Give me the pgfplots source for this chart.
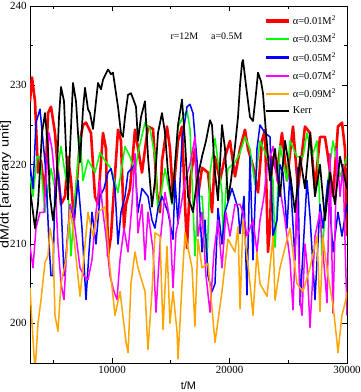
\documentclass[border=0pt]{standalone}
\usepackage{fontspec}
\setmainfont{Liberation Serif}
\newfontfamily\arialfont{Liberation Sans}
\usepackage{graphicx}
\usepackage{pgfplots}
\pgfplotsset{compat=1.18}

\definecolor{cRed}{HTML}{FF0000}
\definecolor{cGreen}{HTML}{00FF00}
\definecolor{cBlue}{HTML}{0000FF}
\definecolor{cMagenta}{HTML}{FF00FF}
\definecolor{cOrange}{HTML}{FFA500}

\begin{document}
\begin{tikzpicture}
\begin{axis}[
    scale only axis,
    width=317bp, height=357bp,
    xmin=3000, xmax=30000,
    ymin=195, ymax=240,
    xtick={10000,20000,30000},
    minor xtick={5000,15000,25000},
    ytick={200,210,220,230,240},
    minor ytick={195,205,215,225,235},
    scaled x ticks=false,
    tick align=inside,
    major tick length=5bp, minor tick length=3bp,
    /pgf/number format/assume math mode=true,
    /pgf/number format/1000 sep={},
    tick label style={font=\fontsize{11}{13}\selectfont},
    axis line style={line width=0.9pt},
    every tick/.style={line width=0.8pt, black},
    xlabel={\arialfont t/M},
    ylabel={\scalebox{1.2}[1]{\arialfont dM/dt [arbitrary unit]}},
    every axis x label/.style={at={(axis description cs:0.5,-0.062)}, anchor=center, font=\fontsize{11}{13}\selectfont},
    every axis y label/.style={at={(axis description cs:-0.077,0.5)}, rotate=90, anchor=center, font=\fontsize{12}{14}\selectfont},
    legend cell align=left,
    legend style={at={(rel axis cs:0.972,0.979)}, anchor=north east, draw=none, fill=none,
        font=\fontsize{10.5}{12}\selectfont, row sep=4bp, inner sep=0pt},
    legend image code/.code={\draw[#1, line width=2.2bp] (0bp,0bp) -- (23bp,0bp);},
    every axis plot/.append style={line join=round},
]
\addplot[cRed, line width=2.6bp, legend image code/.code={\draw[cRed, line width=3.6bp] (0bp,0bp) -- (23bp,0bp);}] coordinates {
(3000,228) (3170,231) (3426,228) (3681,219) (3937,220.5) (4278,216) (4533,226.5) (4789,227.3)
(5129,224) (5385,219) (5640,215) (5981,216) (6236,221) (6492,218) (6747,213) (7003,218)
(7259,223) (7514,225) (7770,225.3) (8195,224) (8536,216) (8792,215) (9217,224) (9473,222)
(9643,208.5) (9899,211) (10069,215) (10495,224.4) (10750,223) (11006,212) (11176,215) (11517,217)
(11943,224.4) (12539,219) (13050,224.8) (13476,224.5) (13817,216.5) (14072,214) (14242,220.5) (14668,224.8)
(14924,222) (15179,216) (15605,223) (15946,224.8) (16201,215) (16372,209.5) (16627,218) (17053,222)
(17308,216) (17649,219.6) (18160,219) (18501,214) (18756,221) (19182,218) (19608,221) (20034,223)
(20460,218.5) (20886,222) (21311,224.4) (21567,222) (21993,219.8) (22419,216.5) (22759,223) (23015,224.4)
(23270,209) (23441,212) (23611,221) (24037,219) (24463,224) (24889,218) (25400,224.8) (25826,217)
(26421,224.8) (26848,224) (27273,217) (27699,223.5) (28125,223.5) (28380,221) (28806,216) (29232,224.8)
(29573,225.3) (29829,222) (30000,211)
};
\addlegendentry{α=0.01M\textsuperscript{2}}
\addplot[cGreen, line width=1.5bp] coordinates {
(3000,218.5) (3256,216) (3596,221) (3852,221) (4278,214) (4533,217) (4789,219.5) (5129,217)
(5640,222.3) (5981,219) (6236,217) (6492,208.5) (6832,216) (7259,223.5) (7514,218) (7940,220.6)
(8536,219) (8962,221.5) (9388,220.5) (9899,219.5) (10495,216.5) (11091,222.3) (11517,221) (11943,219)
(12198,221.5) (12795,225.3) (13220,224.5) (13646,221) (13902,214) (14498,219.5) (15094,215) (15605,224.8)
(16031,226) (16372,226.8) (16627,224.5) (16883,215) (17053,208.5) (17308,216) (17649,216) (18075,207.6)
(18331,219) (18756,223.3) (19353,216.5) (19438,210.6) (19693,217) (19864,219.5) (20460,220.3) (20886,221.5)
(21311,223.5) (21737,222) (22163,217.5) (22589,223) (23185,221) (23696,218) (23867,209.6) (24293,222.4)
(24889,218) (25144,223) (25740,221) (26251,221) (26592,224) (27018,221) (27444,223) (27869,208.6)
(28295,217) (28806,223) (29403,218.5) (30000,221)
};
\addlegendentry{α=0.03M\textsuperscript{2}}
\addplot[cBlue, line width=1.5bp] coordinates {
(3000,220) (3256,217) (3511,225.3) (3852,227) (4107,223) (4363,219) (4618,210) (4789,206)
(4959,206) (5129,217.5) (5385,219) (5640,215.5) (5896,206) (6151,210) (6407,215) (6747,213)
(7088,218) (7429,212) (7770,203) (8025,209) (8281,214) (8621,210) (8962,216) (9303,217)
(9643,219) (9899,219.5) (10240,217) (10495,210) (10750,214) (11091,216) (11347,219) (11943,220)
(12198,214) (12539,217) (13050,216) (13391,213) (13646,212) (13902,214.5) (14242,216) (14753,214)
(15179,210.6) (15350,218) (15605,212.5) (15946,223) (16372,227.3) (16627,227.6) (16883,226.5) (17308,219)
(17649,209) (17905,213) (18160,206) (18501,204) (18756,205) (19012,214.5) (19353,210) (19608,214)
(20204,217) (20715,214.5) (20886,211.3) (21226,216) (21482,203.6) (21737,221) (21993,208) (22333,222)
(22589,225) (23015,224) (23441,223.5) (23696,211) (24037,213) (24293,220) (24548,219) (24889,212)
(25144,219) (25570,208) (25826,219.6) (26000,202.3) (26251,209) (26592,218) (26848,213.5) (27273,203)
(27699,215) (27955,212) (28380,218) (28806,209) (29232,214) (29573,211) (30000,215)
};
\addlegendentry{α=0.05M\textsuperscript{2}}
\addplot[cMagenta, line width=1.5bp] coordinates {
(3000,209.7) (3256,207) (3511,212) (3852,214) (4192,214) (4448,220) (4618,224) (4874,222)
(5129,218) (5385,210) (5640,205) (5896,203) (6151,210) (6407,215) (6662,214) (7003,210)
(7259,207) (7599,206) (7940,205.5) (8281,208) (8621,214) (8962,218) (9217,214) (9473,211)
(9814,206) (10155,204) (10410,203) (10665,208) (11006,212) (11347,209) (11687,215) (11943,221.4)
(12198,211.4) (12539,215) (12795,208) (13050,214) (13476,209.3) (13732,201.4) (14072,210) (14498,216.5)
(14924,213) (15179,204.5) (15435,211.4) (15776,214) (16201,218) (16627,220) (17053,223.5) (17308,211)
(17649,214) (17990,206) (18331,201.4) (18671,209) (19012,213) (19353,207) (19693,214) (20034,211)
(20460,215) (20886,215) (21141,214) (21482,211) (21993,213) (22333,209) (22589,213) (22930,216)
(23185,219.7) (23696,222.3) (24037,218) (24293,217) (24718,213) (25144,208) (25400,201.7) (25740,216)
(26000,203) (26166,201) (26421,210) (26592,207.5) (26848,199.5) (27273,211) (27699,214) (28295,202.6)
(28551,221.4) (28806,201.3) (29147,222) (29403,216) (29658,220) (30000,201)
};
\addlegendentry{α=0.07M\textsuperscript{2}}
\addplot[cOrange, line width=1.5bp] coordinates {
(3000,204.5) (3170,200) (3430,194) (3680,200) (3940,203) (4280,207.7) (4530,208.5) (4700,212)
(4960,210) (5130,201) (5380,199) (5640,205) (6070,208) (6410,214.3) (6660,212) (7260,203.4)
(7510,207) (7940,214) (8360,211) (8790,214) (9390,214.7) (9810,207) (10240,201) (10670,204)
(11180,197.6) (11350,196.3) (11600,205) (11940,209) (12200,207) (12800,204) (12970,198.9) (13050,196.7)
(13390,204) (13650,211.4) (14070,211) (14330,199.2) (14670,209.7) (14920,200) (15180,204) (15520,199)
(15610,195.5) (15950,205) (16200,211.4) (16800,207) (17050,199.6) (17310,210.6) (17650,207) (18160,207.5)
(18760,197.6) (19350,204) (19860,210.6) (20460,209) (20720,212.2) (20890,201.8) (21140,213) (21740,205)
(21990,201) (22330,209) (22590,205) (23190,203.4) (23700,211) (23870,202.9) (24290,207) (25140,212)
(25740,205) (26250,204) (26850,207) (27440,211) (27700,201.5) (27950,210.8) (28380,206) (28810,202.3)
(29150,197.6) (29230,196.3) (29570,201) (29910,203) (30000,204)
};
\addlegendentry{α=0.09M\textsuperscript{2}}
\addplot[black, line width=1.7bp] coordinates {
(3000,217) (3426,212) (3681,215) (4022,224) (4278,226.5) (4533,222) (4703,216) (4959,213)
(5214,216) (5470,226) (5640,229.8) (5896,228) (6066,222) (6236,215.6) (6407,222) (6662,230.3)
(6918,228) (7088,224) (7259,220.3) (7514,227) (7684,229.7) (7940,227) (8110,226.5) (8366,224.5)
(8621,228) (8792,230.3) (9047,229.5) (9217,230.7) (9473,231.5) (9643,232) (9899,231.4) (10069,231.6)
(10325,229) (10495,227.3) (10750,224) (10921,223.5) (11091,226) (11347,228.8) (11602,229) (11858,228)
(12028,227.3) (12198,223) (12454,226) (12795,228) (13050,221) (13391,214.7) (13646,218) (13902,224)
(14242,226.5) (14498,224) (14753,219) (15094,215.2) (15350,220) (15605,225) (15946,228.2) (16201,223)
(16457,216) (16883,214) (17223,218) (17649,221) (17990,223) (18331,225.6) (18501,225) (18756,219)
(19012,215.5) (19182,220) (19353,225) (19608,222) (19864,215.5) (20119,218) (20460,222.3) (20715,226)
(20886,230) (21056,232.8) (21141,233.2) (21397,230) (21737,226) (21993,225.5) (22248,229) (22419,231.6)
(22674,230.5) (22845,229) (23100,224) (23441,218) (23867,222) (24293,216) (24718,223) (25144,219)
(25570,214) (26000,221) (26421,217) (26848,224) (27273,216) (27699,220) (28125,213) (28551,219)
(28977,215) (29403,221) (30000,217)
};
\addlegendentry{Kerr}
\node[font=\fontsize{10}{12}\selectfont] at (rel axis cs:0.487,0.916) {r=12M};
\node[font=\fontsize{10}{12}\selectfont] at (rel axis cs:0.621,0.916) {a=0.5M};
\end{axis}
\pgfresetboundingbox
\path ([xshift=-30bp,yshift=-29bp]current axis.south west) rectangle ([xshift=13bp,yshift=6bp]current axis.north east);
\end{tikzpicture}
\end{document}
